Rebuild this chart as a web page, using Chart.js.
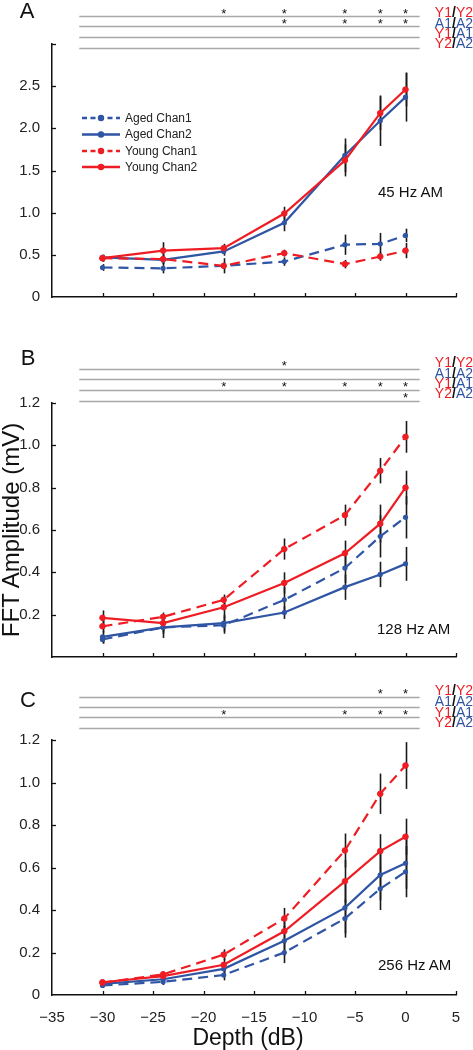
<!DOCTYPE html>
<html>
<head>
<meta charset="utf-8">
<script src="https://cdn.jsdelivr.net/npm/chart.js@4.4.1/dist/chart.umd.min.js"></script>
<style>
  html,body{margin:0;padding:0;background:#fff;}
  body{width:473px;height:1050px;position:relative;overflow:hidden;font-family:"Liberation Sans",Arial,sans-serif;}
  canvas{position:absolute;left:0;}
  .t{position:absolute;white-space:nowrap;line-height:1;color:#111;}
  .letter{font-size:22px;transform:translate(-50%,-50%);}
  .am{font-size:15px;transform:translateY(-50%);}
  .row{font-size:14px;right:0px;transform:translateY(-50%);}
  .r{color:#EE1D23;} .b{color:#2F55A4;} .s{color:#111;font-weight:bold;}
</style>
</head>
<body>
<canvas id="cA" width="473" height="310" style="top:0px"></canvas>
<canvas id="cB" width="473" height="350" style="top:320px"></canvas>
<canvas id="cC" width="473" height="380" style="top:670px"></canvas>

<div class="t letter" style="left:27px;top:11px">A</div>
<div class="t letter" style="left:28px;top:358px">B</div>
<div class="t letter" style="left:28px;top:700px">C</div>

<div class="t am" style="left:378px;top:191px">45 Hz AM</div>
<div class="t am" style="left:377px;top:628px">128 Hz AM</div>
<div class="t am" style="left:378px;top:964px">256 Hz AM</div>

<div class="t row" style="top:12px"><span class="r">Y1</span><span class="s">/</span><span class="r">Y2</span></div>
<div class="t row" style="top:22.5px"><span class="b">A1</span><span class="s">/</span><span class="b">A2</span></div>
<div class="t row" style="top:33px"><span class="r">Y1</span><span class="s">/</span><span class="b">A1</span></div>
<div class="t row" style="top:43px"><span class="r">Y2</span><span class="s">/</span><span class="b">A2</span></div>

<div class="t row" style="top:362px"><span class="r">Y1</span><span class="s">/</span><span class="r">Y2</span></div>
<div class="t row" style="top:372.5px"><span class="b">A1</span><span class="s">/</span><span class="b">A2</span></div>
<div class="t row" style="top:383px"><span class="r">Y1</span><span class="s">/</span><span class="b">A1</span></div>
<div class="t row" style="top:393px"><span class="r">Y2</span><span class="s">/</span><span class="b">A2</span></div>

<div class="t row" style="top:690px"><span class="r">Y1</span><span class="s">/</span><span class="r">Y2</span></div>
<div class="t row" style="top:701px"><span class="b">A1</span><span class="s">/</span><span class="b">A2</span></div>
<div class="t row" style="top:712px"><span class="r">Y1</span><span class="s">/</span><span class="b">A1</span></div>
<div class="t row" style="top:722px"><span class="r">Y2</span><span class="s">/</span><span class="b">A2</span></div>

<div class="t" style="left:11px;top:530px;font-size:24px;transform:translate(-50%,-50%) rotate(-90deg);">FFT Amplitude (mV)</div>
<div class="t" style="left:248px;top:1037px;font-size:23px;transform:translate(-50%,-50%);">Depth (dB)</div>

<script>
// ---------- data ----------
const depths = [-30, -24, -18, -12, -6, -2.5, 0];
const seriesNames = ['Aged Chan1', 'Aged Chan2', 'Young Chan1', 'Young Chan2'];
const rowLabels = ['Y1/Y2', 'A1/A2', 'Y1/A1', 'Y2/A2'];

// Panel A: 45 Hz AM
const a_agedChan1  = [0.35, 0.34, 0.37, 0.42, 0.62, 0.63, 0.73];
const a_agedChan2  = [0.47, 0.44, 0.54, 0.88, 1.68, 2.09, 2.37];
const a_youngChan1 = [0.46, 0.45, 0.37, 0.52, 0.39, 0.48, 0.55];
const a_youngChan2 = [0.46, 0.55, 0.58, 0.99, 1.62, 2.18, 2.46];
const a_errAged1   = [0.04, 0.06, 0.04, 0.05, 0.12, 0.13, 0.08];
const a_errAged2   = [0.03, 0.05, 0.05, 0.10, 0.20, 0.30, 0.29];
const a_errYoung1  = [0.04, 0.06, 0.09, 0.04, 0.05, 0.05, 0.09];
const a_errYoung2  = [0.04, 0.10, 0.05, 0.08, 0.19, 0.20, 0.20];
const a_stars = [[-18, -12, -6, -2.5, 0], [-12, -6, -2.5, 0], [], []];
const a_yTicks = [0, 0.5, 1.0, 1.5, 2.0, 2.5];

// Panel B: 128 Hz AM
const b_agedChan1  = [0.083, 0.14, 0.15, 0.27, 0.42, 0.57, 0.66];
const b_agedChan2  = [0.095, 0.14, 0.16, 0.21, 0.33, 0.39, 0.44];
const b_youngChan1 = [0.145, 0.19, 0.27, 0.51, 0.67, 0.88, 1.04];
const b_youngChan2 = [0.185, 0.16, 0.235, 0.35, 0.49, 0.63, 0.80];
const b_errAged1   = [0.02, 0.03, 0.04, 0.06, 0.07, 0.10, 0.10];
const b_errAged2   = [0.03, 0.05, 0.04, 0.03, 0.06, 0.06, 0.08];
const b_errYoung1  = [0.03, 0.02, 0.025, 0.05, 0.05, 0.06, 0.075];
const b_errYoung2  = [0.035, 0.04, 0.05, 0.05, 0.06, 0.09, 0.08];
const b_stars = [[-12], [], [-18, -12, -6, -2.5, 0], [0]];
const b_yTicks = [0.2, 0.4, 0.6, 0.8, 1.0, 1.2];

// Panel C: 256 Hz AM
const c_agedChan1  = [0.045, 0.062, 0.094, 0.20, 0.36, 0.50, 0.58];
const c_agedChan2  = [0.052, 0.074, 0.123, 0.255, 0.41, 0.565, 0.62];
const c_youngChan1 = [0.058, 0.097, 0.19, 0.36, 0.68, 0.947, 1.08];
const c_youngChan2 = [0.06, 0.089, 0.142, 0.30, 0.535, 0.677, 0.745];
const c_errAged1   = [0.01, 0.015, 0.025, 0.05, 0.09, 0.10, 0.12];
const c_errAged2   = [0.01, 0.015, 0.03, 0.07, 0.12, 0.12, 0.12];
const c_errYoung1  = [0.01, 0.015, 0.025, 0.05, 0.08, 0.095, 0.11];
const c_errYoung2  = [0.01, 0.015, 0.03, 0.06, 0.10, 0.08, 0.085];
const c_stars = [[-2.5, 0], [], [-18, -6, -2.5, 0], []];
const c_yTicks = [0, 0.2, 0.4, 0.6, 0.8, 1.0, 1.2];

const xTicks = [-35, -30, -25, -20, -15, -10, -5, 0, 5];

// ---------- styles ----------
const RED = '#EE1D23', BLUE = '#2F55A4', AX = '#111';
const FONT = '"Liberation Sans", Arial, sans-serif';
const DASH = [10, 6];

function makeDatasets(a1, a2, y1, y2) {
  const pts = v => v.map((y, i) => ({x: depths[i], y}));
  const base = {borderWidth: 2.2, pointRadius: 2.6, pointHoverRadius: 2.6, tension: 0, fill: false};
  return [
    Object.assign({}, base, {label: seriesNames[0], data: pts(a1), borderColor: BLUE, backgroundColor: BLUE, pointBackgroundColor: BLUE, pointBorderWidth: 0, borderDash: DASH, order: 1}),
    Object.assign({}, base, {label: seriesNames[1], data: pts(a2), borderColor: BLUE, backgroundColor: BLUE, pointBackgroundColor: BLUE, pointBorderWidth: 0, order: 1}),
    Object.assign({}, base, {label: seriesNames[2], data: pts(y1), borderColor: RED, backgroundColor: RED, pointBackgroundColor: RED, pointBorderColor: RED, pointBorderWidth: 1, pointRadius: 2.8, borderDash: DASH, order: 0}),
    Object.assign({}, base, {label: seriesNames[3], data: pts(y2), borderColor: RED, backgroundColor: RED, pointBackgroundColor: RED, pointBorderColor: RED, pointBorderWidth: 1, pointRadius: 2.8, order: 0})
  ];
}

const panelPlugin = {
  id: 'panel',
  beforeDatasetsDraw(chart, args, o) {
    const ctx = chart.ctx, xs = chart.scales.x, ys = chart.scales.y;
    ctx.save();
    ctx.strokeStyle = '#1a1a1a';
    ctx.lineWidth = 1.6;
    chart.data.datasets.forEach((ds, di) => {
      const err = o.errors[di];
      ds.data.forEach((p, j) => {
        const px = Math.round(xs.getPixelForValue(p.x)) + 0.5;
        ctx.beginPath();
        ctx.moveTo(px, ys.getPixelForValue(p.y - err[j]));
        ctx.lineTo(px, ys.getPixelForValue(p.y + err[j]));
        ctx.stroke();
      });
    });
    ctx.restore();
  },
  afterDraw(chart, args, o) {
    const ctx = chart.ctx, xs = chart.scales.x, ys = chart.scales.y, ca = chart.chartArea;
    ctx.save();
    // inward ticks
    ctx.strokeStyle = AX; ctx.lineWidth = 1.3;
    xs.ticks.forEach(t => {
      if (t.value <= xs.min) return;
      const px = Math.round(xs.getPixelForValue(t.value)) + 0.5;
      ctx.beginPath(); ctx.moveTo(px, ca.bottom); ctx.lineTo(px, ca.bottom - 4); ctx.stroke();
    });
    ys.ticks.forEach(t => {
      if (t.value <= ys.min) return;
      const py = Math.round(ys.getPixelForValue(t.value)) + 0.5;
      ctx.beginPath(); ctx.moveTo(ca.left, py); ctx.lineTo(ca.left + 4, py); ctx.stroke();
    });
    // significance rows
    ctx.strokeStyle = '#a8a8a8'; ctx.lineWidth = 1.4;
    const lx0 = xs.getPixelForValue(o.sigFrom), lx1 = xs.getPixelForValue(o.sigTo);
    o.sigLines.forEach(off => {
      const y = Math.round(ca.top + off) + 0.5;
      ctx.beginPath(); ctx.moveTo(lx0, y); ctx.lineTo(lx1, y); ctx.stroke();
    });
    ctx.fillStyle = '#111';
    ctx.font = '13px ' + FONT;
    ctx.textAlign = 'center'; ctx.textBaseline = 'middle';
    o.stars.forEach((row, ri) => {
      row.forEach(xv => {
        ctx.fillText('*', xs.getPixelForValue(xv), ca.top + o.sigLines[ri] - 2);
      });
    });
    // legend
    if (o.legend) {
      const rows = [74, 90.5, 107, 123];
      ctx.font = '12px ' + FONT;
      ctx.textAlign = 'left';
      chart.data.datasets.forEach((ds, i) => {
        const y = ca.top + rows[i];
        const x0 = ca.left + 30, x1 = ca.left + 68;
        ctx.strokeStyle = ds.borderColor; ctx.lineWidth = 2.4;
        ctx.setLineDash(ds.borderDash ? [5, 3.5] : []);
        ctx.beginPath(); ctx.moveTo(x0, y); ctx.lineTo(x1, y); ctx.stroke();
        ctx.setLineDash([]);
        ctx.fillStyle = ds.borderColor;
        ctx.beginPath(); ctx.arc((x0 + x1) / 2, y, 3.2, 0, Math.PI * 2); ctx.fill();
        ctx.fillStyle = '#222';
        ctx.fillText(ds.label, ca.left + 73, y + 0.5);
      });
    }
    ctx.restore();
  }
};

function makeChart(id, cfg) {
  const fmtY = v => v === 0 ? '0' : v.toFixed(1);
  return new Chart(document.getElementById(id), {
    type: 'line',
    data: {datasets: makeDatasets(cfg.a1, cfg.a2, cfg.y1, cfg.y2)},
    plugins: [panelPlugin],
    options: {
      responsive: false, animation: false, events: [],
      layout: {padding: {top: cfg.padTop, right: 17, left: 0, bottom: 0}},
      plugins: {
        legend: {display: false}, tooltip: {enabled: false},
        panel: {errors: cfg.errors, stars: cfg.stars, sigLines: cfg.sigLines, sigFrom: -32.3, sigTo: 1.4, legend: cfg.legend}
      },
      scales: {
        x: {
          type: 'linear', min: -35, max: 5,
          afterBuildTicks: s => { s.ticks = xTicks.map(v => ({value: v})); },
          ticks: {display: cfg.showX, padding: 6, color: '#222', font: {family: FONT, size: 15},
                  callback: v => (v < 0 ? '\u2212' + Math.abs(v) : String(v)), maxRotation: 0, autoSkip: false},
          grid: {display: false},
          border: {display: true, color: AX, width: 1.5},
          afterFit: s => { s.height = cfg.xH; }
        },
        y: {
          type: 'linear', min: 0, max: cfg.yMax,
          afterBuildTicks: s => { s.ticks = cfg.yTickMarks.map(v => ({value: v})); },
          ticks: {padding: 4, color: '#222', font: {family: FONT, size: 15},
                  callback: v => (cfg.yTicks.some(t => Math.abs(t - v) < 1e-6) ? fmtY(v) : '')},
          grid: {display: false},
          border: {display: true, color: AX, width: 1.5},
          afterFit: s => { s.width = 52; }
        }
      }
    }
  });
}

makeChart('cA', {
  a1: a_agedChan1, a2: a_agedChan2, y1: a_youngChan1, y2: a_youngChan2,
  errors: [a_errAged1, a_errAged2, a_errYoung1, a_errYoung2],
  stars: a_stars, sigLines: [-27.7, -17.7, -7.3, 4.3],
  yMax: 3, yTicks: a_yTicks, yTickMarks: [0, 0.5, 1, 1.5, 2, 2.5, 3],
  padTop: 44, xH: 8, showX: false, legend: true
});
makeChart('cB', {
  a1: b_agedChan1, a2: b_agedChan2, y1: b_youngChan1, y2: b_youngChan2,
  errors: [b_errAged1, b_errAged2, b_errYoung1, b_errYoung2],
  stars: b_stars, sigLines: [-34.3, -23.7, -13.3, -2.3],
  yMax: 1.2, yTicks: b_yTicks, yTickMarks: [0, 0.2, 0.4, 0.6, 0.8, 1.0, 1.2],
  padTop: 83, xH: 10, showX: false, legend: false
});
makeChart('cC', {
  a1: c_agedChan1, a2: c_agedChan2, y1: c_youngChan1, y2: c_youngChan2,
  errors: [c_errAged1, c_errAged2, c_errYoung1, c_errYoung2],
  stars: c_stars, sigLines: [-43.3, -33, -22.7, -11.7],
  yMax: 1.2, yTicks: c_yTicks, yTickMarks: [0, 0.2, 0.4, 0.6, 0.8, 1.0, 1.2],
  padTop: 70, xH: 55, showX: true, legend: false
});
</script>
</body>
</html>
